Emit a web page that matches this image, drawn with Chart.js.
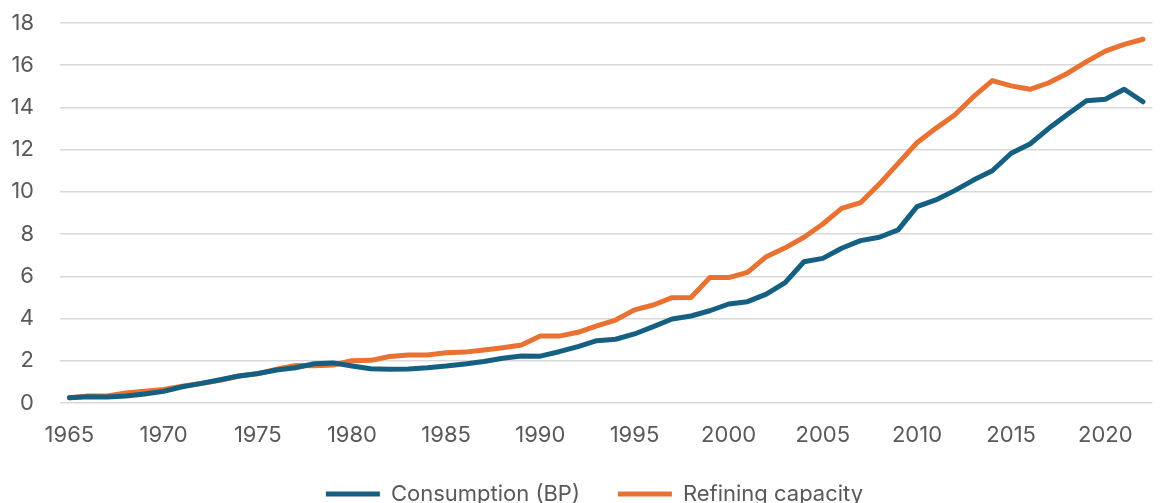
<!DOCTYPE html>
<html>
<head>
<meta charset="utf-8">
<script src="https://cdn.jsdelivr.net/npm/chart.js@4/dist/chart.umd.min.js"></script>
<style>
  html, body { margin: 0; padding: 0; background: #fff; }
  #wrap { width: 1162px; height: 503px; }
</style>
</head>
<body>
<div id="wrap"><canvas id="chart"></canvas></div>
<script>
// years on the category axis
const years = [];
for (let y = 1965; y <= 2022; y++) years.push(String(y));

// values
const consumption = [
  0.25, 0.30, 0.28, 0.33, 0.43, 0.55, 0.77, 0.93, 1.10, 1.28,
  1.40, 1.56, 1.67, 1.86, 1.90, 1.75, 1.62, 1.60, 1.61, 1.67,
  1.75, 1.85, 1.97, 2.12, 2.23, 2.22, 2.43, 2.67, 2.95, 3.02,
  3.27, 3.62, 3.98, 4.12, 4.37, 4.69, 4.80, 5.16, 5.70, 6.69,
  6.85, 7.33, 7.69, 7.85, 8.20, 9.30, 9.62, 10.06, 10.56, 11.00,
  11.83, 12.27, 13.01, 13.68, 14.32, 14.39, 14.86, 14.27
];

const refining = [
  0.25, 0.33, 0.33, 0.48, 0.56, 0.64, 0.80, 0.92, 1.08, 1.28,
  1.38, 1.60, 1.78, 1.76, 1.80, 2.00, 2.02, 2.20, 2.27, 2.27,
  2.38, 2.41, 2.51, 2.62, 2.75, 3.17, 3.17, 3.35, 3.65, 3.93,
  4.41, 4.64, 4.99, 5.00, 5.94, 5.94, 6.19, 6.93, 7.35, 7.85,
  8.48, 9.22, 9.49, 10.37, 11.35, 12.33, 13.01, 13.64, 14.51, 15.27,
  15.02, 14.86, 15.17, 15.62, 16.17, 16.67, 16.99, 17.23
];

const seriesNames = ['Consumption (BP)', 'Refining capacity'];
const seriesColors = ['#156082', '#E97132'];

const textColor = '#595959';
const fontFamily = 'Inter, "Open Sans", sans-serif';

// the legend in the original sits a bit right of the page centre
const legendShift = {
  id: 'legendShift',
  afterLayout(chart) {
    chart.legend.left += 27;
  }
};

const ctx = document.getElementById('chart').getContext('2d');

new Chart(ctx, {
  type: 'line',
  data: {
    labels: years,
    datasets: [consumption, refining].map((values, i) => ({
      label: seriesNames[i],
      data: values,
      borderColor: seriesColors[i],
      backgroundColor: seriesColors[i],
      borderWidth: 5,
      borderCapStyle: 'round',
      borderJoinStyle: 'round',
      pointRadius: 0,
      pointHoverRadius: 0,
      tension: 0,
      fill: false
    }))
  },
  options: {
    responsive: true,
    maintainAspectRatio: false,
    animation: false,
    layout: {
      padding: { top: 23, right: 0, bottom: -12, left: 0 }
    },
    plugins: {
      tooltip: { enabled: false },
      legend: {
        display: true,
        position: 'bottom',
        labels: {
          usePointStyle: true,
          pointStyle: 'line',
          pointStyleWidth: 54,
          padding: 38,
          color: textColor,
          font: { family: fontFamily, size: 22 }
        }
      }
    },
    scales: {
      x: {
        type: 'category',
        offset: true,
        grid: { display: false, drawTicks: false },
        border: { display: false },
        ticks: {
          autoSkip: false,
          maxRotation: 0,
          minRotation: 0,
          padding: 19,
          color: textColor,
          font: { family: fontFamily, size: 22 },
          callback: function (value, index) {
            const y = Number(this.getLabelForValue(value));
            return (y - 1965) % 5 === 0 ? String(y) : '';
          }
        },
        afterFit: (axis) => { axis.height = 42; }
      },
      y: {
        min: 0,
        max: 18,
        grid: { color: '#d9d9d9', lineWidth: 1.5, drawTicks: false },
        border: { display: false },
        ticks: {
          stepSize: 2,
          padding: 26,
          color: textColor,
          font: { family: fontFamily, size: 22 }
        },
        afterFit: (axis) => {
          axis.width = 60;
          axis.paddingTop = 0;
          axis.paddingBottom = 0;
        }
      }
    }
  },
  plugins: [legendShift]
});
</script>
</body>
</html>
